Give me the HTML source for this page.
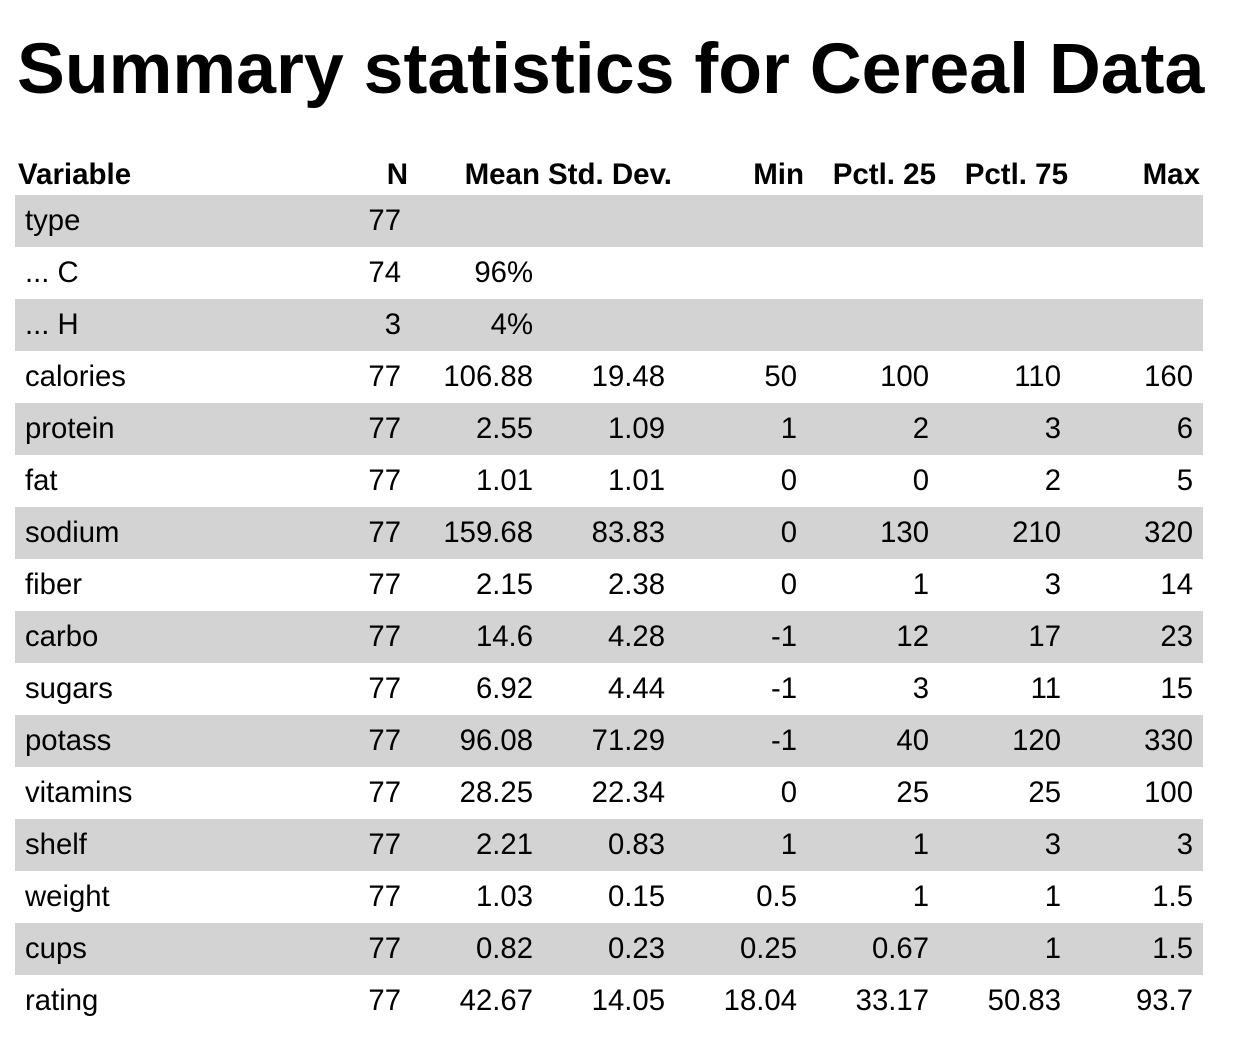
<!DOCTYPE html>
<html><head><meta charset="utf-8"><style>
body{margin:0;width:1241px;height:1044px;background:#fff;font-family:"Liberation Sans",Arial,sans-serif;color:#000;position:relative;overflow:hidden}
h1{position:absolute;left:17px;top:28px;margin:0;font-size:71.7px;font-weight:bold;white-space:nowrap;letter-spacing:0}
table{position:absolute;left:15px;top:155px;border-collapse:collapse;border-spacing:0;table-layout:fixed;width:1188px}
th{font-size:29.5px;font-weight:bold;height:40px;padding:0 3px 0 0;text-align:right;vertical-align:bottom;line-height:40px;white-space:nowrap}
th.v{text-align:left;padding-left:3px}
td{font-size:29.3px;height:52px;padding:0 10px 0 0;text-align:right;white-space:nowrap;line-height:52px}
td.v{text-align:left;padding-left:10px}
tr.g td{background:#d3d3d3}
</style></head><body>
<h1>Summary statistics for Cereal Data</h1>
<table>
<colgroup><col style="width:264px"><col style="width:132px"><col style="width:132px"><col style="width:132px"><col style="width:132px"><col style="width:132px"><col style="width:132px"><col style="width:132px"></colgroup>
<thead><tr><th class="v">Variable</th><th>N</th><th>Mean</th><th>Std. Dev.</th><th>Min</th><th>Pctl. 25</th><th>Pctl. 75</th><th>Max</th></tr></thead>
<tbody id="tb"></tbody>
</table>
<script>
const rows=[
["type","77","","","","","",""],
["... C","74","96%","","","","",""],
["... H","3","4%","","","","",""],
["calories","77","106.88","19.48","50","100","110","160"],
["protein","77","2.55","1.09","1","2","3","6"],
["fat","77","1.01","1.01","0","0","2","5"],
["sodium","77","159.68","83.83","0","130","210","320"],
["fiber","77","2.15","2.38","0","1","3","14"],
["carbo","77","14.6","4.28","-1","12","17","23"],
["sugars","77","6.92","4.44","-1","3","11","15"],
["potass","77","96.08","71.29","-1","40","120","330"],
["vitamins","77","28.25","22.34","0","25","25","100"],
["shelf","77","2.21","0.83","1","1","3","3"],
["weight","77","1.03","0.15","0.5","1","1","1.5"],
["cups","77","0.82","0.23","0.25","0.67","1","1.5"],
["rating","77","42.67","14.05","18.04","33.17","50.83","93.7"]];
const tb=document.getElementById('tb');
rows.forEach((r,i)=>{
const tr=document.createElement('tr');


if(i%2===0)tr.className='g';
r.forEach((c,j)=>{const td=document.createElement('td');if(j===0)td.className='v';td.textContent=c;tr.appendChild(td);});
tb.appendChild(tr);});
</script>
</body></html>
